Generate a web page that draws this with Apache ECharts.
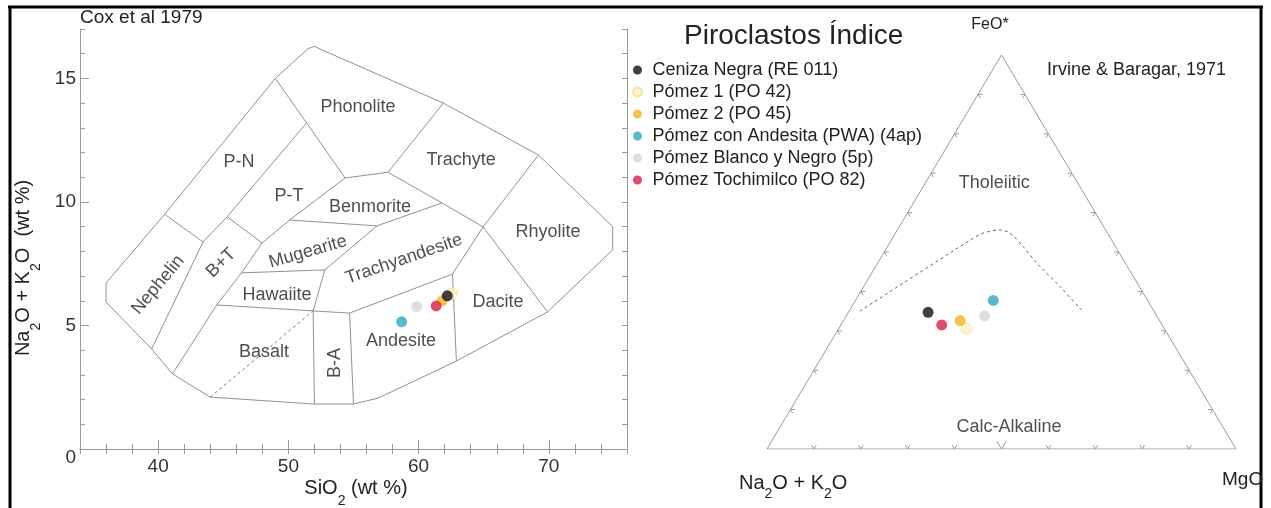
<!DOCTYPE html>
<html>
<head>
<meta charset="utf-8">
<script src="https://cdn.jsdelivr.net/npm/echarts@6/dist/echarts.min.js"></script>
<style>
  html, body { margin: 0; padding: 0; background: #ffffff; }
  #chart { width: 1271px; height: 508px; }
</style>
</head>
<body>
<div id="chart"></div>
<script>
// ---- Samples (legend order) ----
const sampleNames = [
  'Ceniza Negra (RE 011)',
  'Pómez 1 (PO 42)',
  'Pómez 2 (PO 45)',
  'Pómez con Andesita (PWA) (4ap)',
  'Pómez Blanco y Negro (5p)',
  'Pómez Tochimilco (PO 82)'
];
const sampleColors = ['#121212', '#fff3bf', '#f3b71b', '#2fa9be', '#d6d6d6', '#d81f4b'];

// TAS diagram values (wt %)
const sio2   = [62.2, 62.55, 61.8, 58.7, 59.85, 61.35];
const alkali = [6.2, 6.3, 6.0, 5.15, 5.76, 5.79];

// AFM values (%): A = Na2O + K2O, F = FeO*, M = MgO
const afmA = [48.3, 42.2, 42.5, 32.9, 36.7, 47.0];
const afmF = [34.7, 30.5, 32.6, 37.7, 33.8, 31.5];
const afmM = [17.0, 27.3, 24.9, 29.4, 29.5, 21.5];

// ---- Axis ticks of the TAS plot ----
const xMajorTicks = [40, 50, 60, 70];
const yMajorTicks = [0, 5, 10, 15];

// ---- Cox et al. (1979) field boundaries, [SiO2, Na2O+K2O] ----
const tasOutline = [
  [36.0, 6.72], [40.5, 9.5], [49.0, 15.0], [51.5, 16.2], [52.0, 16.3], [52.6, 16.15],
  [61.9, 14.0], [69.2, 11.9], [74.9, 9.0], [74.9, 8.06], [69.9, 5.55], [62.9, 3.56],
  [56.9, 2.06], [55.0, 1.82], [52.0, 1.82], [44.0, 2.1], [41.1, 3.04], [39.5, 4.05],
  [36.0, 5.95], [36.0, 6.72]
];
const tasDividers = [
  [[49.0, 15.0], [51.4, 13.2], [54.35, 10.97]],
  [[51.4, 13.2], [45.3, 9.4], [43.45, 8.38]],
  [[43.45, 8.38], [40.5, 9.5]],
  [[43.45, 8.38], [39.5, 4.05]],
  [[45.3, 9.4], [47.98, 8.34]],
  [[54.35, 10.97], [50.1, 9.27], [47.98, 8.34]],
  [[54.35, 10.97], [57.65, 11.2], [61.9, 14.0]],
  [[57.65, 11.2], [61.8, 9.96], [64.95, 8.99]],
  [[64.95, 8.99], [69.2, 11.9]],
  [[64.95, 8.99], [69.9, 5.55]],
  [[64.95, 8.99], [62.6, 7.08], [62.9, 3.56]],
  [[62.6, 7.08], [54.7, 5.5], [55.0, 1.82]],
  [[51.9, 5.59], [54.7, 5.5]],
  [[51.9, 5.59], [52.0, 1.82]],
  [[51.9, 5.59], [52.8, 7.25], [56.8, 9.03], [61.8, 9.96]],
  [[50.1, 9.27], [56.8, 9.03]],
  [[52.8, 7.25], [46.4, 7.13]],
  [[47.98, 8.34], [46.4, 7.13], [44.5, 5.83], [41.1, 3.04]],
  [[44.5, 5.83], [51.9, 5.59]]
];
const tasDashed = [[44.0, 2.1], [51.9, 5.59]];

// Field names and where they sit (SiO2, Na2O+K2O) with their text angle
const fieldNames  = ['Phonolite', 'P-N', 'P-T', 'Trachyte', 'Benmorite', 'Mugearite', 'Nephelin', 'B+T',
                     'Trachyandesite', 'Hawaiite', 'Rhyolite', 'Dacite', 'Basalt', 'B-A', 'Andesite'];
const fieldSiO2   = [55.35, 46.2, 50.05, 63.26, 56.27, 51.5, 39.99, 44.83, 58.88, 49.13, 69.94, 66.1, 48.13, 53.58, 58.65];
const fieldAlk    = [13.85, 11.62, 10.24, 11.7, 9.8, 7.98, 6.64, 7.53, 7.69, 6.23, 8.79, 5.95, 3.93, 3.48, 4.37];
const fieldAngles = [0, 0, 0, 0, 0, 16, 50, 45, 19, 0, 0, 0, 0, 90, 0];

// ---- Irvine & Baragar (1971) boundary, AFM % ----
const ibA = [62.7, 30.2, 26.5, 22.5, 20.8, 19.7, 18.9, 16.9, 15.3];
const ibF = [35.0, 53.0, 54.8, 55.6, 54.8, 51.4, 47.2, 41.2, 35.3];
const ibM = [2.3, 16.8, 18.7, 21.9, 24.4, 28.9, 33.9, 41.9, 49.4];

// AFM field names (A, F, M %)
const afmFieldNames = ['Tholeiitic', 'Calc-Alkaline'];
const afmFieldA = [17.8, 45.6];
const afmFieldF = [67.5, 5.6];
const afmFieldM = [14.7, 48.8];

// Ternary tick fractions along each side
const ternTickFractions = [0.1, 0.2, 0.3, 0.4, 0.5, 0.6, 0.7, 0.8, 0.9];

// ---------------------------------------------------------------
const FONT = "'Liberation Sans', Arial, Helvetica, sans-serif";
const TXT = '#222222';
const FIELD_LINE = '#909090';
const AXIS_LINE = '#9a9a9a';

// ternary (A, F, M) -> plot plane, A at (0,0), M at (1,0), F at (0.5,1)
function ternXY(a, f, m) {
  const s = a + f + m;
  return [(m + f / 2) / s, f / s];
}

const chart = echarts.init(document.getElementById('chart'), null, { renderer: 'canvas' });

const series = [];

// TAS field boundaries
series.push({
  type: 'line', xAxisIndex: 0, yAxisIndex: 0, data: tasOutline, symbol: 'none',
  lineStyle: { color: FIELD_LINE, width: 1 }, silent: true, z: 2, animation: false
});
tasDividers.forEach(pts => series.push({
  type: 'line', xAxisIndex: 0, yAxisIndex: 0, data: pts, symbol: 'none',
  lineStyle: { color: FIELD_LINE, width: 1 }, silent: true, z: 2, animation: false
}));
series.push({
  type: 'line', xAxisIndex: 0, yAxisIndex: 0, data: tasDashed, symbol: 'none',
  lineStyle: { color: '#777', width: 1, type: [3, 3] }, silent: true, z: 2, animation: false
});

// TAS field names
series.push({
  type: 'scatter', xAxisIndex: 0, yAxisIndex: 0, symbolSize: 1, silent: true, animation: false,
  itemStyle: { color: 'rgba(0,0,0,0)' }, z: 3,
  data: fieldNames.map((n, i) => ({
    value: [fieldSiO2[i], fieldAlk[i]], name: n,
    label: { rotate: fieldAngles[i] }
  })),
  label: {
    show: true, position: 'inside', formatter: p => p.name,
    fontFamily: FONT, fontSize: 18, color: TXT, align: 'center', verticalAlign: 'middle'
  }
});

// Ternary frame
const ternCorners = [ternXY(100, 0, 0), ternXY(0, 0, 100), ternXY(0, 100, 0)]; // A, M, F
series.push({
  type: 'line', xAxisIndex: 3, yAxisIndex: 3, symbol: 'none', silent: true, animation: false,
  data: [ternCorners[0], ternCorners[1], ternCorners[2], ternCorners[0]],
  lineStyle: { color: AXIS_LINE, width: 1 }, z: 2
});

// Ternary tick marks (small chevrons pointing inward)
const ternSides = [[0, 1, 2], [0, 2, 1], [1, 2, 0]];
const ternTickData = [];
ternSides.forEach((s, si) => {
  ternTickFractions.forEach(t => {
    const P = ternCorners[s[0]], Q = ternCorners[s[1]];
    ternTickData.push([P[0] + (Q[0] - P[0]) * t, P[1] + (Q[1] - P[1]) * t, si, t]);
  });
});
series.push({
  type: 'custom', xAxisIndex: 3, yAxisIndex: 3, silent: true, animation: false, z: 2,
  data: ternTickData,
  encode: { x: 0, y: 1 },
  renderItem: (params, api) => {
    const si = api.value(2), t = api.value(3);
    const s = ternSides[si];
    const p = api.coord([api.value(0), api.value(1)]);
    const pp = api.coord(ternCorners[s[0]]);
    const pq = api.coord(ternCorners[s[1]]);
    const pr = api.coord(ternCorners[s[2]]);
    const unit = (a, b) => { const dx = b[0] - a[0], dy = b[1] - a[1], l = Math.hypot(dx, dy); return [dx / l, dy / l]; };
    const d1 = unit(pp, pr), d2 = unit(pq, pr);
    const len = (si === 0 && Math.abs(t - 0.5) < 1e-6) ? 9 : 4.5;
    return {
      type: 'polyline',
      shape: { points: [[p[0] + d1[0] * len, p[1] + d1[1] * len], p, [p[0] + d2[0] * len, p[1] + d2[1] * len]] },
      style: { stroke: AXIS_LINE, fill: null, lineWidth: 1 }
    };
  }
});

// Irvine & Baragar dashed divide
series.push({
  type: 'line', xAxisIndex: 3, yAxisIndex: 3, symbol: 'none', silent: true, animation: false,
  data: ibA.map((a, i) => ternXY(a, ibF[i], ibM[i])),
  smooth: 0.3,
  lineStyle: { color: '#666', width: 1, type: [3, 3] }, z: 2
});

// AFM field names
series.push({
  type: 'scatter', xAxisIndex: 3, yAxisIndex: 3, symbolSize: 1, silent: true, animation: false,
  itemStyle: { color: 'rgba(0,0,0,0)' }, z: 3,
  data: afmFieldNames.map((n, i) => ({ value: ternXY(afmFieldA[i], afmFieldF[i], afmFieldM[i]), name: n })),
  label: {
    show: true, position: 'inside', formatter: p => p.name,
    fontFamily: FONT, fontSize: 18, color: TXT, align: 'center', verticalAlign: 'middle'
  }
});

// Sample points in both diagrams (black drawn last so it sits on top)
const drawOrder = [1, 2, 5, 4, 3, 0];
drawOrder.forEach(i => {
  const style = { color: sampleColors[i] };
  if (i === 1) { style.borderColor = '#efe09a'; style.borderWidth = 1; }
  series.push({
    type: 'scatter', name: sampleNames[i], xAxisIndex: 0, yAxisIndex: 0,
    symbol: 'circle', symbolSize: 11, itemStyle: style, z: 5, animation: false,
    data: [[sio2[i], alkali[i]]]
  });
  series.push({
    type: 'scatter', name: sampleNames[i], xAxisIndex: 3, yAxisIndex: 3,
    symbol: 'circle', symbolSize: 11, itemStyle: style, z: 5, animation: false,
    data: [ternXY(afmA[i], afmF[i], afmM[i])]
  });
});

const minorTick = { show: true, inside: true, length: 5, lineStyle: { color: AXIS_LINE, width: 1 } };
const axisLine = { show: true, lineStyle: { color: AXIS_LINE, width: 1 } };

const option = {
  backgroundColor: '#ffffff',
  animation: false,
  textStyle: { fontFamily: FONT },
  title: [
    { text: 'Piroclastos Índice', left: 684, top: 22, padding: 0,
      textStyle: { fontFamily: FONT, fontSize: 28, fontWeight: 'normal', color: TXT } },
    { text: 'Cox et al 1979', left: 80, top: 8, padding: 0,
      textStyle: { fontFamily: FONT, fontSize: 19, fontWeight: 'normal', color: TXT } },
    { text: 'Irvine & Baragar, 1971', left: 1047, top: 61, padding: 0,
      textStyle: { fontFamily: FONT, fontSize: 18, fontWeight: 'normal', color: TXT } }
  ],
  legend: {
    data: sampleNames,
    orient: 'vertical', left: 632, top: 61, padding: 0,
    itemWidth: 20, itemHeight: 9, itemGap: 4, icon: 'circle', selectedMode: false,
    textStyle: { fontFamily: FONT, fontSize: 18, lineHeight: 18, color: TXT }
  },
  grid: [
    { left: 80, top: 29, right: 644, bottom: 59 },
    { left: 767, top: 55, right: 35, bottom: 59 }
  ],
  xAxis: [
    { // bottom SiO2 axis
      type: 'value', gridIndex: 0, position: 'bottom', min: 34, max: 76, interval: 2,
      axisLine, axisTick: minorTick, splitLine: { show: false },
      axisLabel: { margin: 8, fontSize: 19, color: '#333', fontFamily: FONT,
        formatter: v => (xMajorTicks.indexOf(v) >= 0 ? String(v) : '') }
    },
    { // top frame
      type: 'value', gridIndex: 0, position: 'top', min: 34, max: 76, interval: 2,
      axisLine, axisTick: minorTick, axisLabel: { show: false }, splitLine: { show: false }
    },
    { // longer ticks at labelled values
      type: 'value', gridIndex: 0, position: 'bottom', min: 34, max: 76, interval: 2,
      axisLine: { show: false }, splitLine: { show: false }, axisLabel: { show: false },
      axisTick: { show: true, inside: true, length: 9, customValues: xMajorTicks, lineStyle: { color: AXIS_LINE } }
    },
    { type: 'value', gridIndex: 1, min: 0, max: 1, show: false }
  ],
  yAxis: [
    { // left alkali axis
      type: 'value', gridIndex: 0, position: 'left', min: 0, max: 17, interval: 1,
      axisLine, axisTick: minorTick, splitLine: { show: false },
      axisLabel: { margin: 4, fontSize: 19, color: '#333', fontFamily: FONT,
        formatter: v => (v === 0 ? '{lo|0}' : (yMajorTicks.indexOf(v) >= 0 ? String(v) : '')),
        rich: { lo: { fontSize: 19, color: '#333', fontFamily: FONT, padding: [18, 0, 0, 0] } } }
    },
    { // right frame
      type: 'value', gridIndex: 0, position: 'right', min: 0, max: 17, interval: 1,
      axisLine, axisTick: minorTick, axisLabel: { show: false }, splitLine: { show: false }
    },
    { // longer ticks at labelled values
      type: 'value', gridIndex: 0, position: 'left', min: 0, max: 17, interval: 1,
      axisLine: { show: false }, splitLine: { show: false }, axisLabel: { show: false },
      axisTick: { show: true, inside: true, length: 9, customValues: yMajorTicks, lineStyle: { color: AXIS_LINE } }
    },
    { type: 'value', gridIndex: 1, min: 0, max: 1, show: false }
  ],
  graphic: [
    // black figure frame
    { type: 'line', shape: { x1: 8, y1: 7, x2: 1263, y2: 7 }, style: { stroke: '#000', lineWidth: 3 }, silent: true },
    { type: 'line', shape: { x1: 10, y1: 6, x2: 10, y2: 508 }, style: { stroke: '#000', lineWidth: 3 }, silent: true },
    { type: 'line', shape: { x1: 1261, y1: 6, x2: 1261, y2: 508 }, style: { stroke: '#000', lineWidth: 3 }, silent: true },
    // axis titles
    { type: 'text', x: 356, y: 488, silent: true,
      style: { text: '{m|SiO}{s|2}{m| (wt %)}', align: 'center', verticalAlign: 'middle', fill: TXT,
        rich: { m: { fontFamily: FONT, fontSize: 20, lineHeight: 20, verticalAlign: 'top', fill: TXT },
                s: { fontFamily: FONT, fontSize: 14, lineHeight: 14, verticalAlign: 'top', padding: [16, 0, 0, 0], fill: TXT } } } },
    { type: 'text', x: 23, y: 268, rotation: Math.PI / 2, silent: true,
      style: { text: '{m|Na}{s|2}{m|O + K}{s|2}{m|O  (wt %)}', align: 'center', verticalAlign: 'middle', fill: TXT,
        rich: { m: { fontFamily: FONT, fontSize: 20, lineHeight: 20, verticalAlign: 'top', fill: TXT },
                s: { fontFamily: FONT, fontSize: 14, lineHeight: 14, verticalAlign: 'top', padding: [16, 0, 0, 0], fill: TXT } } } },
    // ternary apex names
    { type: 'text', x: 739, y: 483, silent: true,
      style: { text: '{m|Na}{s|2}{m|O + K}{s|2}{m|O}', align: 'left', verticalAlign: 'middle', fill: TXT,
        rich: { m: { fontFamily: FONT, fontSize: 20, lineHeight: 20, verticalAlign: 'top', fill: TXT },
                s: { fontFamily: FONT, fontSize: 14, lineHeight: 14, verticalAlign: 'top', padding: [14, 0, 0, 0], fill: TXT } } } },
    { type: 'text', x: 1222, y: 480, silent: true,
      style: { text: 'MgO', font: '19px ' + FONT, align: 'left', verticalAlign: 'middle', fill: TXT } },
    { type: 'text', x: 990, y: 25, silent: true,
      style: { text: 'FeO*', font: '16px ' + FONT, align: 'center', verticalAlign: 'middle', fill: TXT } }
  ],
  series
};

chart.setOption(option);
</script>
</body>
</html>
